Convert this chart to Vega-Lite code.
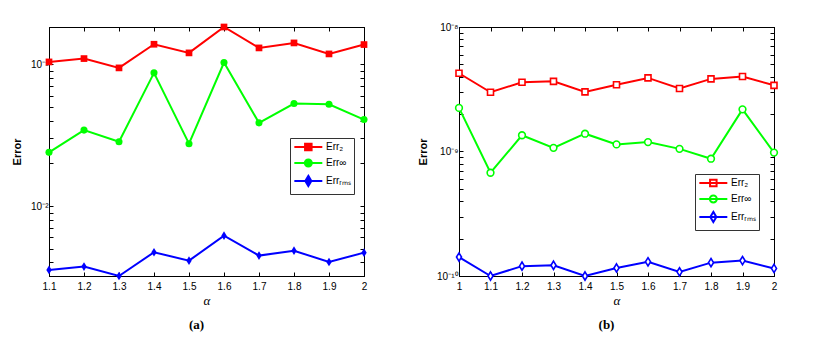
{
  "$schema": "https://vega.github.io/schema/vega-lite/v6.json",
  "padding": {"left": 10, "top": 21, "right": 5, "bottom": 0},
  "background": "white",
  "datasets": {
    "a": [
      {"alpha": 1.1, "series": "Err2", "error": 0.1038},
      {"alpha": 1.2, "series": "Err2", "error": 0.1096},
      {"alpha": 1.3, "series": "Err2", "error": 0.0942},
      {"alpha": 1.4, "series": "Err2", "error": 0.1383},
      {"alpha": 1.5, "series": "Err2", "error": 0.1202},
      {"alpha": 1.6, "series": "Err2", "error": 0.183},
      {"alpha": 1.7, "series": "Err2", "error": 0.1303},
      {"alpha": 1.8, "series": "Err2", "error": 0.1413},
      {"alpha": 1.9, "series": "Err2", "error": 0.1182},
      {"alpha": 2.0, "series": "Err2", "error": 0.1376},
      {"alpha": 1.1, "series": "Errinf", "error": 0.0239},
      {"alpha": 1.2, "series": "Errinf", "error": 0.0343},
      {"alpha": 1.3, "series": "Errinf", "error": 0.0284},
      {"alpha": 1.4, "series": "Errinf", "error": 0.0869},
      {"alpha": 1.5, "series": "Errinf", "error": 0.0275},
      {"alpha": 1.6, "series": "Errinf", "error": 0.1027},
      {"alpha": 1.7, "series": "Errinf", "error": 0.0386},
      {"alpha": 1.8, "series": "Errinf", "error": 0.0528},
      {"alpha": 1.9, "series": "Errinf", "error": 0.0522},
      {"alpha": 2.0, "series": "Errinf", "error": 0.0407},
      {"alpha": 1.1, "series": "Errrms", "error": 0.00354},
      {"alpha": 1.2, "series": "Errrms", "error": 0.00374},
      {"alpha": 1.3, "series": "Errrms", "error": 0.00321},
      {"alpha": 1.4, "series": "Errrms", "error": 0.00472},
      {"alpha": 1.5, "series": "Errrms", "error": 0.00412},
      {"alpha": 1.6, "series": "Errrms", "error": 0.00618},
      {"alpha": 1.7, "series": "Errrms", "error": 0.00447},
      {"alpha": 1.8, "series": "Errrms", "error": 0.00484},
      {"alpha": 1.9, "series": "Errrms", "error": 0.00403},
      {"alpha": 2.0, "series": "Errrms", "error": 0.00469}
    ],
    "b": [
      {"alpha": 1.0, "series": "Err2", "error": 4.25e-9},
      {"alpha": 1.1, "series": "Err2", "error": 2.99e-9},
      {"alpha": 1.2, "series": "Err2", "error": 3.60e-9},
      {"alpha": 1.3, "series": "Err2", "error": 3.66e-9},
      {"alpha": 1.4, "series": "Err2", "error": 3.01e-9},
      {"alpha": 1.5, "series": "Err2", "error": 3.44e-9},
      {"alpha": 1.6, "series": "Err2", "error": 3.90e-9},
      {"alpha": 1.7, "series": "Err2", "error": 3.21e-9},
      {"alpha": 1.8, "series": "Err2", "error": 3.83e-9},
      {"alpha": 1.9, "series": "Err2", "error": 4.00e-9},
      {"alpha": 2.0, "series": "Err2", "error": 3.40e-9},
      {"alpha": 1.0, "series": "Errinf", "error": 2.24e-9},
      {"alpha": 1.1, "series": "Errinf", "error": 6.75e-10},
      {"alpha": 1.2, "series": "Errinf", "error": 1.35e-9},
      {"alpha": 1.3, "series": "Errinf", "error": 1.07e-9},
      {"alpha": 1.4, "series": "Errinf", "error": 1.39e-9},
      {"alpha": 1.5, "series": "Errinf", "error": 1.14e-9},
      {"alpha": 1.6, "series": "Errinf", "error": 1.19e-9},
      {"alpha": 1.7, "series": "Errinf", "error": 1.05e-9},
      {"alpha": 1.8, "series": "Errinf", "error": 8.75e-10},
      {"alpha": 1.9, "series": "Errinf", "error": 2.18e-9},
      {"alpha": 2.0, "series": "Errinf", "error": 9.8e-10},
      {"alpha": 1.0, "series": "Errrms", "error": 1.42e-10},
      {"alpha": 1.1, "series": "Errrms", "error": 1.0e-10},
      {"alpha": 1.2, "series": "Errrms", "error": 1.20e-10},
      {"alpha": 1.3, "series": "Errrms", "error": 1.22e-10},
      {"alpha": 1.4, "series": "Errrms", "error": 1.0e-10},
      {"alpha": 1.5, "series": "Errrms", "error": 1.16e-10},
      {"alpha": 1.6, "series": "Errrms", "error": 1.30e-10},
      {"alpha": 1.7, "series": "Errrms", "error": 1.08e-10},
      {"alpha": 1.8, "series": "Errrms", "error": 1.28e-10},
      {"alpha": 1.9, "series": "Errrms", "error": 1.33e-10},
      {"alpha": 2.0, "series": "Errrms", "error": 1.15e-10}
    ]
  },
  "config": {
    "view": {"stroke": "black", "strokeWidth": 1},
    "font": "Liberation Sans",
    "axis": {
      "grid": false,
      "domainColor": "black",
      "tickColor": "black",
      "labelColor": "black",
      "titleColor": "black",
      "tickSize": -4,
      "labelFont": "Liberation Sans",
      "labelFontSize": 10,
      "labelPadding": 5,
      "labelFlush": false,
      "labelOverlap": false
    },
    "axisX": {"titleFont": "Liberation Serif", "titleFontSize": 13, "titleFontStyle": "italic", "titleFontWeight": "normal", "titlePadding": 3, "labelPadding": 9},
    "axisY": {"titleFont": "Liberation Sans", "titleFontSize": 11, "titleFontWeight": "bold"},
    "legend": {
      "orient": "none",
      "strokeColor": "#333333",
      "fillColor": "white",
      "padding": 3,
      "symbolSize": 87,
      "symbolStrokeWidth": 2,
      "labelFontSize": 10,
      "labelFont": "Liberation Sans",
      "labelOffset": 21,
      "rowPadding": 0,
      "title": null
    }
  },
  "resolve": {"scale": {"color": "independent"}, "legend": {"color": "independent"}},
  "spacing": 47,
  "hconcat": [
    {
      "width": 315,
      "height": 249,
      "title": {"text": "(a)", "orient": "bottom", "font": "Liberation Serif", "fontSize": 13, "fontWeight": "bold", "offset": 12, "dx": -10},
      "data": {"name": "a"},
      "encoding": {
        "x": {"field": "alpha", "type": "quantitative", "scale": {"domain": [1.1, 2], "nice": false, "zero": false}},
        "y": {"field": "error", "type": "quantitative", "scale": {"type": "log", "domain": [0.00321, 0.183], "nice": false}},
        "color": {"field": "series", "type": "nominal",
          "scale": {"domain": ["Err2", "Errinf", "Errrms"], "range": ["#ff0000", "#00ff00", "#0000ff"]}, "legend": null}
      },
      "layer": [
        {
          "mark": {"type": "line", "strokeWidth": 2},
          "encoding": {
            "x": {"field": "alpha", "type": "quantitative",
              "axis": {"values": [1.1, 1.2, 1.3, 1.4, 1.5, 1.6, 1.7, 1.8, 1.9, 2.0], "format": ".1~f", "title": "α"}},
            "y": {"field": "error", "type": "quantitative",
              "axis": {"values": [0.004, 0.005, 0.006, 0.007, 0.008, 0.009, 0.01, 0.02, 0.03, 0.04, 0.05, 0.06, 0.07, 0.08, 0.09, 0.1],
                "labelExpr": "datum.value == 0.1 ? '10⁻¹' : datum.value == 0.01 ? '10⁻²' : ''",
                "title": "Error", "minExtent": 22, "maxExtent": 22, "titlePadding": 5}},
            "color": {"field": "series", "type": "nominal",
              "legend": {"legendX": 241, "legendY": 111,
                "labelExpr": "datum.value == 'Err2' ? 'Err₂' : datum.value == 'Errinf' ? 'Err∞' : 'Errᵣₘₛ'",
                "encode": {"symbols": {"update": {
                  "shape": {"signal": "datum.value == 'Err2' ? 'M-1,0H5M1.3,-0.7H2.7V0.7H1.3Z' : datum.value == 'Errinf' ? 'M-1,0H5M2.75,0A0.75,0.75 0 1,1 1.25,0A0.75,0.75 0 1,1 2.75,0Z' : 'M-1,0H5M2,-1.1L2.65,0L2,1.1L1.35,0Z'"},
                  "fill": {"signal": "datum.value == 'Err2' ? '#ff0000' : datum.value == 'Errinf' ? '#00ff00' : '#0000ff'"},
                  "stroke": {"signal": "datum.value == 'Err2' ? '#ff0000' : datum.value == 'Errinf' ? '#00ff00' : '#0000ff'"},
                  "strokeWidth": {"value": 2},
                  "opacity": {"value": 1}
                }}}}}
          }
        },
        {
          "transform": [{"filter": "datum.series == 'Err2'"}],
          "mark": {"type": "point", "filled": true, "size": 45, "opacity": 1, "shape": "square"},
          "encoding": {
            "x": {"field": "alpha", "type": "quantitative",
              "axis": {"orient": "top", "values": [1.1, 1.2, 1.3, 1.4, 1.5, 1.6, 1.7, 1.8, 1.9, 2.0], "labels": false, "title": null}},
            "y": {"field": "error", "type": "quantitative",
              "axis": {"orient": "right", "values": [0.004, 0.005, 0.006, 0.007, 0.008, 0.009, 0.01, 0.02, 0.03, 0.04, 0.05, 0.06, 0.07, 0.08, 0.09, 0.1], "labels": false, "title": null}}
          }
        },
        {
          "transform": [{"filter": "datum.series == 'Errinf'"}],
          "mark": {"type": "point", "filled": true, "size": 50, "opacity": 1, "shape": "circle"},
          "encoding": {"x": {"field": "alpha", "type": "quantitative", "axis": null}, "y": {"field": "error", "type": "quantitative", "axis": null}}
        },
        {
          "transform": [{"filter": "datum.series == 'Errrms'"}],
          "mark": {"type": "point", "filled": true, "size": 45, "opacity": 1, "shape": "M0,-1.3L0.8,0L0,1.3L-0.8,0Z"},
          "encoding": {"x": {"field": "alpha", "type": "quantitative", "axis": null}, "y": {"field": "error", "type": "quantitative", "axis": null}}
        }
      ],
      "resolve": {"axis": {"x": "independent", "y": "independent"}}
    },
    {
      "width": 315,
      "height": 249,
      "title": {"text": "(b)", "orient": "bottom", "font": "Liberation Serif", "fontSize": 13, "fontWeight": "bold", "offset": 12, "dx": -10},
      "data": {"name": "b"},
      "encoding": {
        "x": {"field": "alpha", "type": "quantitative", "scale": {"domain": [1, 2], "nice": false, "zero": false}},
        "y": {"field": "error", "type": "quantitative", "scale": {"type": "log", "domain": [1e-10, 1e-8], "nice": false}},
        "color": {"field": "series", "type": "nominal",
          "scale": {"domain": ["Err2", "Errinf", "Errrms"], "range": ["#ff0000", "#00ff00", "#0000ff"]}, "legend": null}
      },
      "layer": [
        {
          "mark": {"type": "line", "strokeWidth": 2},
          "encoding": {
            "x": {"field": "alpha", "type": "quantitative",
              "axis": {"values": [1.0, 1.1, 1.2, 1.3, 1.4, 1.5, 1.6, 1.7, 1.8, 1.9, 2.0], "format": ".1~f", "title": "α"}},
            "y": {"field": "error", "type": "quantitative",
              "axis": {"values": [1e-10, 2e-10, 3e-10, 4e-10, 5e-10, 6e-10, 7e-10, 8e-10, 9e-10, 1e-9, 2e-9, 3e-9, 4e-9, 5e-9, 6e-9, 7e-9, 8e-9, 9e-9, 1e-8],
                "labelExpr": "datum.value == 1e-8 ? '10⁻⁸' : datum.value == 1e-9 ? '10⁻⁹' : datum.value == 1e-10 ? '10⁻¹⁰' : ''",
                "title": "Error", "minExtent": 26, "maxExtent": 26, "titlePadding": 5}},
            "color": {"field": "series", "type": "nominal",
              "legend": {"legendX": 236, "legendY": 147,
                "labelExpr": "datum.value == 'Err2' ? 'Err₂' : datum.value == 'Errinf' ? 'Err∞' : 'Errᵣₘₛ'",
                "encode": {"symbols": {"update": {
                  "shape": {"signal": "datum.value == 'Err2' ? 'M-1,0H5M1.3,-0.7H2.7V0.7H1.3Z' : datum.value == 'Errinf' ? 'M-1,0H5M2.75,0A0.75,0.75 0 1,1 1.25,0A0.75,0.75 0 1,1 2.75,0Z' : 'M-1,0H5M2,-1.1L2.65,0L2,1.1L1.35,0Z'"},
                  "fill": {"value": "white"},
                  "stroke": {"signal": "datum.value == 'Err2' ? '#ff0000' : datum.value == 'Errinf' ? '#00ff00' : '#0000ff'"},
                  "strokeWidth": {"value": 2},
                  "opacity": {"value": 1}
                }}}}}
          }
        },
        {
          "transform": [{"filter": "datum.series == 'Err2'"}],
          "mark": {"type": "point", "filled": false, "fill": "white", "fillOpacity": 1, "strokeWidth": 1.6, "size": 36, "opacity": 1, "shape": "square"},
          "encoding": {
            "x": {"field": "alpha", "type": "quantitative",
              "axis": {"orient": "top", "values": [1.0, 1.1, 1.2, 1.3, 1.4, 1.5, 1.6, 1.7, 1.8, 1.9, 2.0], "labels": false, "title": null}},
            "y": {"field": "error", "type": "quantitative",
              "axis": {"orient": "right", "values": [1e-10, 2e-10, 3e-10, 4e-10, 5e-10, 6e-10, 7e-10, 8e-10, 9e-10, 1e-9, 2e-9, 3e-9, 4e-9, 5e-9, 6e-9, 7e-9, 8e-9, 9e-9, 1e-8], "labels": false, "title": null}}
          }
        },
        {
          "transform": [{"filter": "datum.series == 'Errinf'"}],
          "mark": {"type": "point", "filled": false, "fill": "white", "fillOpacity": 1, "strokeWidth": 1.6, "size": 45, "opacity": 1, "shape": "circle"},
          "encoding": {"x": {"field": "alpha", "type": "quantitative", "axis": null}, "y": {"field": "error", "type": "quantitative", "axis": null}}
        },
        {
          "transform": [{"filter": "datum.series == 'Errrms'"}],
          "mark": {"type": "point", "filled": false, "fill": "white", "fillOpacity": 1, "strokeWidth": 1.6, "size": 40, "opacity": 1, "shape": "M0,-1.3L0.8,0L0,1.3L-0.8,0Z"},
          "encoding": {"x": {"field": "alpha", "type": "quantitative", "axis": null}, "y": {"field": "error", "type": "quantitative", "axis": null}}
        }
      ],
      "resolve": {"axis": {"x": "independent", "y": "independent"}}
    }
  ]
}
